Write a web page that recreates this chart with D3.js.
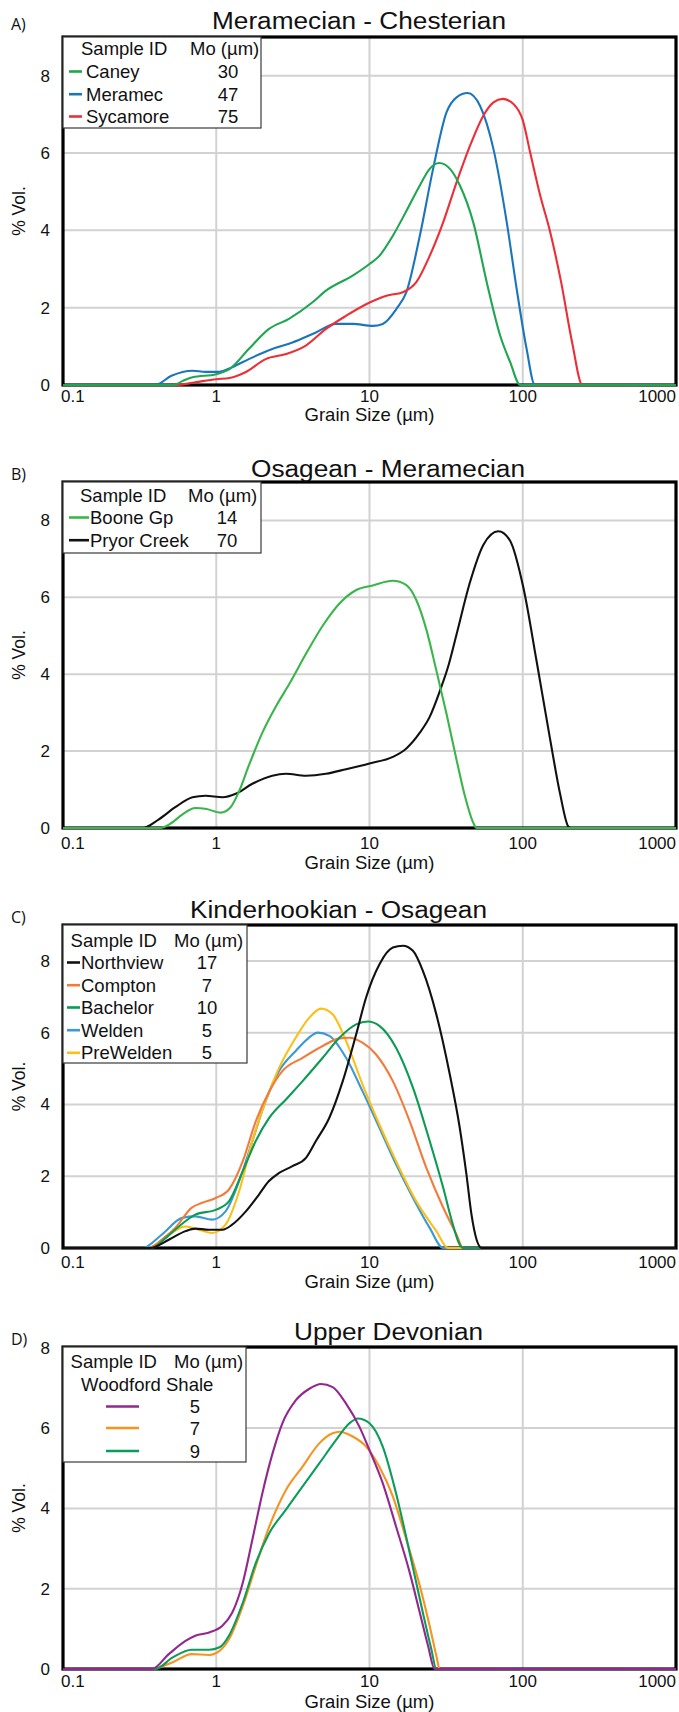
<!DOCTYPE html>
<html>
<head>
<meta charset="utf-8">
<script src="https://cdn.jsdelivr.net/npm/d3@7"></script>
<style>
  html, body { margin: 0; padding: 0; background: #fff; }
  svg text { font-family: "Liberation Sans", Arial, Helvetica, sans-serif; fill: #111; }
</style>
</head>
<body>
<svg id="chart" width="679" height="1712"></svg>
<script>
// ---------------- DATA ----------------
const xTicks = [0.1, 1, 10, 100, 1000];
const xTickLabels = ["0.1", "1", "10", "100", "1000"];
const yTicks = [0, 2, 4, 6, 8];
const xDomain = [0.1, 1000];

// Panel A: Meramecian - Chesterian  [grain size µm, % vol]
const caney = [[0.1,0],[0.53,0],[0.6,0.1],[0.7,0.2],[1.0,0.28],[1.22,0.41],[1.63,0.93],[2.21,1.45],[2.98,1.71],[4.25,2.14],[5.2,2.44],[7.77,2.83],[10,3.13],[11.6,3.34],[14.2,3.86],[17.4,4.5],[21.3,5.16],[24.7,5.59],[28.5,5.74],[33.5,5.59],[38.9,5.16],[47.6,4.2],[58.2,2.66],[71.2,1.28],[82.8,0.59],[96.3,0],[1000,0]];
const meramec = [[0.1,0],[0.4,0],[0.51,0.24],[0.7,0.37],[0.85,0.34],[1.04,0.34],[1.27,0.46],[1.63,0.67],[2.32,0.93],[3.14,1.1],[4.47,1.36],[6.04,1.58],[7.77,1.58],[10.5,1.53],[12.2,1.58],[15,1.97],[17.4,2.4],[21.3,3.86],[26,5.59],[31.8,7.05],[37,7.44],[43.7,7.55],[52.6,7.22],[64.4,6.1],[78.7,4.2],[91.3,2.48],[106,0.93],[120,0],[1000,0]];
const sycamore = [[0.1,0],[0.55,0],[0.73,0.07],[1,0.15],[1.22,0.18],[1.55,0.33],[2.1,0.67],[2.85,0.8],[3.84,1.02],[5.2,1.45],[7.03,1.79],[9.5,2.09],[12.9,2.31],[16.5,2.4],[20.2,2.66],[24.7,3.34],[30.2,4.2],[37,5.24],[45.3,6.19],[55.4,6.97],[64.4,7.31],[74,7.4],[87,7.27],[100,6.85],[112,6.0],[130,4.9],[150,4.0],[178,2.66],[210,1.1],[245,0],[1000,0]];
const namesA = ["Caney", "Meramec", "Sycamore"];
const modesA = ["30", "47", "75"];

// Panel B: Osagean - Meramecian
const booneGp = [[0.1,0],[0.43,0],[0.51,0.13],[0.6,0.35],[0.73,0.52],[0.85,0.5],[1.07,0.4],[1.24,0.54],[1.4,0.93],[1.63,1.62],[2.0,2.48],[2.45,3.16],[3.0,3.75],[3.85,4.53],[4.95,5.26],[6.37,5.84],[8.2,6.19],[10.5,6.31],[14.2,6.43],[17.4,6.32],[20.2,5.93],[23.5,5.16],[27.3,4.1],[31.8,2.97],[37,1.77],[42,0.82],[47.5,0.14],[50,0],[1000,0]];
const pryorCreek = [[0.1,0],[0.33,0],[0.42,0.22],[0.54,0.54],[0.7,0.8],[0.85,0.84],[1.1,0.8],[1.34,0.89],[1.72,1.15],[2.32,1.36],[2.85,1.41],[3.85,1.36],[5.2,1.41],[7.03,1.53],[10,1.68],[14.2,1.85],[17.4,2.07],[21.3,2.48],[24.7,2.89],[29,3.6],[32.6,4.2],[37,5.04],[45,6.36],[55.4,7.37],[69.4,7.72],[82.5,7.48],[101,6.25],[123,4.35],[151,2.3],[175,0.9],[198,0.04],[205,0],[1000,0]];
const namesB = ["Boone Gp", "Pryor Creek"];
const modesB = ["14", "70"];

// Panel C: Kinderhookian - Osagean
const northview = [[0.1,0],[0.37,0],[0.49,0.23],[0.63,0.47],[0.73,0.54],[0.89,0.51],[1.1,0.51],[1.27,0.65],[1.56,1.02],[1.9,1.49],[2.2,1.86],[2.57,2.09],[3.14,2.28],[3.85,2.51],[4.47,2.98],[5.47,3.63],[6.69,4.65],[8.18,5.95],[9.5,6.98],[11.6,7.9],[14.2,8.37],[16.5,8.42],[19.2,8.28],[22.3,7.72],[27.3,6.51],[33.4,4.84],[38.8,3.35],[42.9,2.05],[46.3,0.93],[50,0.23],[54,0],[1000,0]];
const compton = [[0.1,0],[0.36,0],[0.46,0.3],[0.54,0.56],[0.69,1.12],[0.81,1.26],[1.0,1.4],[1.21,1.63],[1.49,2.42],[1.81,3.53],[2.22,4.37],[2.7,4.93],[3.66,5.3],[4.95,5.63],[6.37,5.84],[7.4,5.86],[9.0,5.72],[11,5.4],[14.2,4.65],[18.3,3.53],[23.5,2.23],[30.3,1.12],[37,0.37],[40.8,0],[1000,0]];
const bachelor = [[0.1,0],[0.38,0],[0.46,0.25],[0.57,0.6],[0.73,0.93],[1.0,1.07],[1.21,1.3],[1.49,2.14],[1.81,2.98],[2.22,3.63],[2.85,4.14],[3.66,4.65],[4.95,5.3],[6.37,5.86],[8.18,6.23],[9.75,6.31],[11.6,6.19],[14.9,5.58],[19.2,4.47],[24.7,2.98],[30.3,1.67],[35,0.65],[38.8,0.09],[40.8,0],[1000,0]];
const welden = [[0.1,0],[0.33,0],[0.44,0.37],[0.6,0.84],[0.73,0.88],[0.94,0.79],[1.15,1.02],[1.41,1.86],[1.72,2.98],[2.1,4.09],[2.57,4.93],[3.3,5.49],[4.0,5.85],[4.59,6.0],[5.47,5.91],[7.03,5.3],[9.0,4.37],[11.6,3.35],[14.9,2.33],[19.2,1.4],[24.7,0.56],[30.3,0],[1000,0]];
const preWelden = [[0.1,0],[0.36,0],[0.49,0.37],[0.63,0.6],[0.77,0.51],[0.94,0.42],[1.15,0.65],[1.41,1.58],[1.72,2.98],[2.1,4.09],[2.57,5.02],[3.3,5.86],[4.05,6.42],[4.83,6.67],[5.75,6.51],[7.03,5.77],[9.0,4.56],[11.6,3.44],[14.9,2.42],[20.2,1.3],[27.3,0.47],[32.6,0],[1000,0]];
const namesC = ["Northview", "Compton", "Bachelor", "Welden", "PreWelden"];
const modesC = ["17", "7", "10", "5", "5"];

// Panel D: Upper Devonian (Woodford Shale)
const woodford5 = [[0.1,0],[0.38,0],[0.49,0.37],[0.63,0.7],[0.73,0.83],[0.9,0.91],[1.09,1.07],[1.27,1.4],[1.49,2.15],[1.72,3.22],[2.0,4.38],[2.33,5.37],[2.7,6.12],[3.3,6.69],[4.05,6.98],[4.83,7.1],[5.75,7.02],[7.03,6.61],[8.6,6.03],[10,5.45],[12.2,4.63],[14.9,3.55],[18.3,2.4],[21.3,1.4],[24.1,0.58],[26.6,0],[1000,0]];
const woodford7 = [[0.1,0],[0.38,0],[0.52,0.17],[0.69,0.37],[0.9,0.35],[1.05,0.45],[1.21,0.74],[1.49,1.57],[1.81,2.56],[2.22,3.55],[2.85,4.46],[3.66,5.04],[4.7,5.62],[5.75,5.87],[6.37,5.91],[7.77,5.79],[9.5,5.54],[11.6,5.04],[14.2,4.3],[17.4,3.22],[21.3,2.07],[24.7,1.07],[27.3,0.33],[28.7,0],[1000,0]];
const woodford9 = [[0.1,0],[0.4,0],[0.52,0.29],[0.69,0.48],[0.9,0.48],[1.05,0.54],[1.21,0.83],[1.49,1.65],[1.81,2.64],[2.22,3.39],[2.85,3.97],[3.66,4.55],[4.7,5.12],[6.04,5.7],[7.4,6.12],[8.4,6.24],[10,6.12],[12.2,5.54],[14.9,4.38],[18.3,2.89],[22.3,1.4],[25.3,0.5],[27.3,0],[1000,0]];
const modesD = ["5", "7", "9"];

// ---------------- LAYOUT / STYLE ----------------
const L = 63, R = 676;
const panels = [
  { label: "A)", labelY: 30, title: "Meramecian - Chesterian", titleX: 212, titleY: 29, titleW: 294,
    top: 37, bottom: 385, ymax: 9, tickY: 402, axisTitleY: 421,
    series: [[meramec, "#1b75bb"], [sycamore, "#ec2f36"], [caney, "#1fa650"]],
    legend: { right: 261, bottom: 128, hdr: [81, 190], hdrY: 55, rowsY: [78, 100.7, 123],
              line: [69, 82], nameX: 86, valX: 228, names: namesA, modes: modesA,
              colors: ["#1fa650", "#1b75bb", "#ec2f36"] } },
  { label: "B)", labelY: 480, title: "Osagean - Meramecian", titleX: 251, titleY: 477, titleW: 274,
    top: 482, bottom: 828, ymax: 9, tickY: 849, axisTitleY: 869,
    series: [[pryorCreek, "#111111"], [booneGp, "#3ab54a"]],
    legend: { right: 261, bottom: 553, hdr: [80, 188], hdrY: 502, rowsY: [524, 546.7],
              line: [69, 89], nameX: 90, valX: 227, names: namesB, modes: modesB,
              colors: ["#3ab54a", "#111111"] } },
  { label: "C)", labelY: 923, title: "Kinderhookian - Osagean", titleX: 190, titleY: 918, titleW: 297,
    top: 925, bottom: 1248, ymax: 9, tickY: 1268, axisTitleY: 1288,
    series: [[welden, "#3b99d6"], [preWelden, "#fdbf16"], [compton, "#f47a3a"], [bachelor, "#0b9b52"], [northview, "#111111"]],
    legend: { right: 247, bottom: 1063, hdr: [70.6, 174], hdrY: 947, rowsY: [969, 991.7, 1014, 1036.7, 1059.3],
              line: [67, 80], nameX: 81, valX: 207, names: namesC, modes: modesC,
              colors: ["#111111", "#f47a3a", "#0b9b52", "#3b99d6", "#fdbf16"] } },
  { label: "D)", labelY: 1345, title: "Upper Devonian", titleX: 294, titleY: 1340, titleW: 189,
    top: 1347, bottom: 1669, ymax: 8.02, tickY: 1687, axisTitleY: 1708,
    series: [[woodford7, "#f7931e"], [woodford9, "#0a9c5a"], [woodford5, "#92278f"]],
    legend: { right: 246, bottom: 1462, hdr: [70.6, 174], hdrY: 1368, subtitle: "Woodford Shale", subY: 1391, subX: 81,
              rowsY: [1413, 1434.5, 1457.5], line: [106, 139], nameX: null, valX: 195, names: ["", "", ""], modes: modesD,
              colors: ["#92278f", "#f7931e", "#0a9c5a"] } }
];

const svg = d3.select("#chart");

panels.forEach(p => {
  const g = svg.append("g");
  const x = d3.scaleLog().domain(xDomain).range([L, R]);
  const y = d3.scaleLinear().domain([0, p.ymax]).range([p.bottom, p.top]);

  // gridlines
  g.append("g").selectAll("line.v").data(xTicks.slice(1, -1)).join("line")
    .attr("x1", d => x(d)).attr("x2", d => x(d))
    .attr("y1", p.top).attr("y2", p.bottom)
    .attr("stroke", "#d2d2d2").attr("stroke-width", 2);
  g.append("g").selectAll("line.h").data(yTicks.filter(t => t > 0)).join("line")
    .attr("x1", L).attr("x2", R)
    .attr("y1", d => y(d)).attr("y2", d => y(d))
    .attr("stroke", "#d2d2d2").attr("stroke-width", 2);

  // frame
  g.append("rect").attr("x", L).attr("y", p.top).attr("width", R - L).attr("height", p.bottom - p.top)
    .attr("fill", "none").attr("stroke", "#000").attr("stroke-width", 3.2);

  // curves
  const line = d3.line().x(d => x(d[0])).y(d => y(d[1])).curve(d3.curveMonotoneX);
  p.series.forEach(([data, color]) => {
    g.append("path").datum(data).attr("d", line)
      .attr("fill", "none").attr("stroke", color).attr("stroke-width", 2.1)
      .attr("stroke-linejoin", "round");
  });

  // y ticks
  g.append("g").selectAll("text").data(yTicks).join("text")
    .attr("x", 50).attr("y", d => y(d) + 6)
    .attr("text-anchor", "end").attr("font-size", 17).text(d => d);

  // x ticks
  g.append("g").selectAll("text").data(xTicks).join("text")
    .attr("x", (d, i) => i === 0 ? L - 2 : (i === xTicks.length - 1 ? R : x(d)))
    .attr("y", p.tickY)
    .attr("text-anchor", (d, i) => i === 0 ? "start" : (i === xTicks.length - 1 ? "end" : "middle"))
    .attr("font-size", 17).text((d, i) => xTickLabels[i]);

  // axis titles
  g.append("text").attr("x", x(10)).attr("y", p.axisTitleY).attr("text-anchor", "middle")
    .attr("font-size", 18.5).text("Grain Size (µm)");
  g.append("text").attr("transform", `translate(25,${(p.top + p.bottom) / 2}) rotate(-90)`)
    .attr("text-anchor", "middle").attr("font-size", 17.5).text("% Vol.");

  // title & panel label
  g.append("text").attr("x", p.titleX).attr("y", p.titleY).attr("font-size", 23.5)
    .attr("textLength", p.titleW).attr("lengthAdjust", "spacingAndGlyphs").text(p.title);
  g.append("text").attr("x", 11).attr("y", p.labelY).attr("font-size", 16)
    .style("font-family", "'Open Sans', 'Noto Sans', sans-serif").text(p.label);

  // legend
  const lg = p.legend;
  g.append("rect").attr("x", L).attr("y", p.top).attr("width", lg.right - L).attr("height", lg.bottom - p.top)
    .attr("fill", "#fff").attr("stroke", "#3a3a3a").attr("stroke-width", 1.2);
  g.append("text").attr("x", lg.hdr[0]).attr("y", lg.hdrY).attr("font-size", 18.5).text("Sample ID");
  g.append("text").attr("x", lg.hdr[1]).attr("y", lg.hdrY).attr("font-size", 18.5).text("Mo (µm)");
  if (lg.subtitle) {
    g.append("text").attr("x", lg.subX).attr("y", lg.subY).attr("font-size", 18.5).text(lg.subtitle);
  }
  const rows = g.append("g").selectAll("g").data(lg.modes).join("g");
  rows.append("line")
    .attr("x1", lg.line[0]).attr("x2", lg.line[1])
    .attr("y1", (d, i) => lg.rowsY[i] - 6.5).attr("y2", (d, i) => lg.rowsY[i] - 6.5)
    .attr("stroke", (d, i) => lg.colors[i]).attr("stroke-width", 2.6);
  if (lg.nameX !== null) {
    rows.append("text").attr("x", lg.nameX).attr("y", (d, i) => lg.rowsY[i])
      .attr("font-size", 18.5).text((d, i) => lg.names[i]);
  }
  rows.append("text").attr("x", lg.valX).attr("y", (d, i) => lg.rowsY[i])
    .attr("text-anchor", "middle").attr("font-size", 18.5).text(d => d);
});
</script>
</body>
</html>
